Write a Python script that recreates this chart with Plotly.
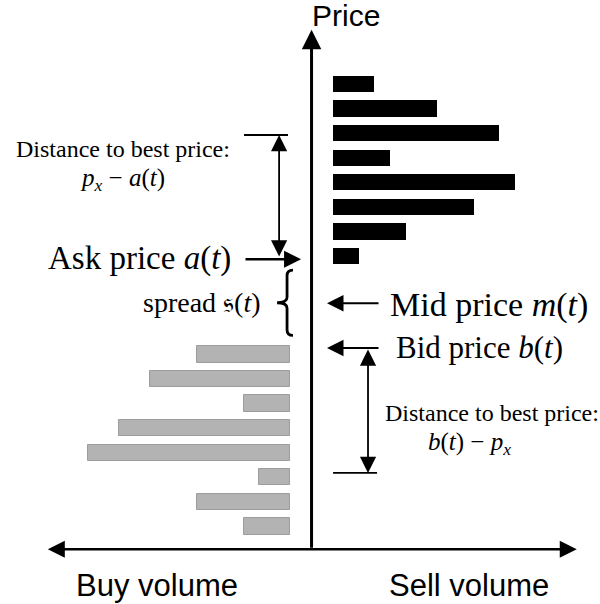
import plotly.graph_objects as go

# ---------------- data ----------------
sell_prices = [110, 109, 108, 107, 106, 105, 104, 103]
sell_volumes = [2.65, 6.7, 10.65, 3.65, 11.7, 9.05, 4.7, 1.7]
buy_prices = [99, 98, 97, 96, 95, 94, 93, 92]
buy_volumes = [6, 9, 3, 11, 13, 2, 6, 3]

ask_price = min(sell_prices)
bid_price = max(buy_prices)
mid_price = (ask_price + bid_price) / 2
px_ask_example = 108
px_bid_example = 94

# ---------------- layout constants ----------------
W, H = 600, 604
GAP = 1.35            # gap between price axis and bars (volume units)
BAR_W = 0.66          # bar thickness (price units)
X_RANGE = [-19.97, 18.49]
Y_RANGE = [88.85, 113.41]
AXIS_FLOOR = 91.08
AXIS_TOP = 112.2
VOL_EXT = 17.0

SERIF = "Liberation Serif"
SANS = "Liberation Sans"

fig = go.Figure()

fig.add_trace(go.Bar(
    orientation="h", y=sell_prices, x=sell_volumes, base=[GAP] * len(sell_volumes),
    width=BAR_W, marker=dict(color="#000000", line=dict(width=0)),
    hoverinfo="skip", showlegend=False,
))
fig.add_trace(go.Bar(
    orientation="h", y=buy_prices, x=buy_volumes,
    base=[-GAP - v for v in buy_volumes],
    width=BAR_W, marker=dict(color="#b3b3b3", line=dict(color="#9c9c9c", width=1)),
    hoverinfo="skip", showlegend=False,
))

ann = []


def arrow(x, y, ax, ay, width, size, both=False):
    ann.append(dict(
        x=x, y=y, ax=ax, ay=ay, xref="x", yref="y", axref="x", ayref="y",
        text="", showarrow=True, arrowhead=2, startarrowhead=2,
        arrowwidth=width, arrowsize=size, startarrowsize=size,
        arrowcolor="#000000", arrowside="end+start" if both else "end",
    ))


# main axes
arrow(0, AXIS_TOP, 0, AXIS_FLOOR, 3, 1.3)
arrow(VOL_EXT, AXIS_FLOOR, -VOL_EXT, AXIS_FLOOR, 2.5, 1.36, both=True)

# ask / mid / bid pointers
arrow(-0.67, ask_price - 0.13, -4.33, ask_price - 0.13, 2.5, 1.36)
arrow(0.99, mid_price + 0.08, 4.39, mid_price + 0.08, 2.2, 1.5)
arrow(0.99, bid_price + 0.26, 4.39, bid_price + 0.26, 2.2, 1.5)

# distance arrows
arrow(-2.08, px_ask_example - 0.08, -2.08, ask_price - 0.08, 1.8, 1.8, both=True)
arrow(3.62, px_bid_example + 0.18, 3.62, bid_price + 0.26, 1.8, 1.8, both=True)

shapes = [
    dict(type="line", xref="x", yref="y", x0=-4.33, x1=-1.51,
         y0=px_ask_example - 0.08, y1=px_ask_example - 0.08,
         line=dict(color="#000000", width=1.8)),
    dict(type="line", xref="x", yref="y", x0=1.38, x1=4.2,
         y0=px_bid_example + 0.18, y1=px_bid_example + 0.18,
         line=dict(color="#000000", width=1.8)),
]

# curly brace for the spread
yc = mid_price + 0.1
h = 1.33
r = 0.22
xr, xm, xl = -1.19, -1.57, -2.21
brace = (f"M{xr},{yc + h} Q{xm},{yc + h} {xm},{yc + h - r} L{xm},{yc + r} "
         f"Q{xm},{yc} {xl},{yc} Q{xm},{yc} {xm},{yc - r} L{xm},{yc - h + r} "
         f"Q{xm},{yc - h} {xr},{yc - h}")
shapes.append(dict(type="path", xref="x", yref="y", path=brace,
                   line=dict(color="#000000", width=2.8)))


def label(text, px, baseline, size, family, anchor="center"):
    ymid = baseline - 0.32 * size
    ann.append(dict(
        x=px / W, y=1 - ymid / H, xref="paper", yref="paper",
        text=text, showarrow=False, xanchor=anchor, yanchor="middle",
        font=dict(family=family, size=size, color="#000000"),
    ))


label("Price", 346, 25, 30, SANS)
label("Buy volume", 157, 595, 31, SANS)
label("Sell volume", 469, 595, 31, SANS)
label("Distance to best price:", 123, 157, 24, SERIF)
label("<i>p</i><sub><i>x</i></sub> − <i>a</i>(<i>t</i>)", 123, 188, 25, SERIF)
label("Ask price <i>a</i>(<i>t</i>)", 233, 269, 33, SERIF, "right")
label("spread 𝔰(<i>t</i>)", 263, 311, 28, SERIF, "right")
label("Mid price <i>m</i>(<i>t</i>)", 388, 316, 34, SERIF, "left")
label("Bid price <i>b</i>(<i>t</i>)", 394, 357, 31, SERIF, "left")
label("Distance to best price:", 383, 421, 24, SERIF, "left")
label("<i>b</i>(<i>t</i>) − <i>p</i><sub><i>x</i></sub>", 469, 451, 25, SERIF)

fig.update_layout(
    width=W, height=H, margin=dict(l=0, r=0, t=0, b=0),
    paper_bgcolor="#ffffff", plot_bgcolor="#ffffff",
    barmode="overlay", bargap=0, hovermode=False,
    xaxis=dict(range=X_RANGE, visible=False, fixedrange=True),
    yaxis=dict(range=Y_RANGE, visible=False, fixedrange=True),
    annotations=ann, shapes=shapes, showlegend=False,
)

fig.write_html(
    "out.html",
    config={"displayModeBar": False},
    post_script="document.body.style.margin='0';document.body.style.overflow='hidden';",
)
